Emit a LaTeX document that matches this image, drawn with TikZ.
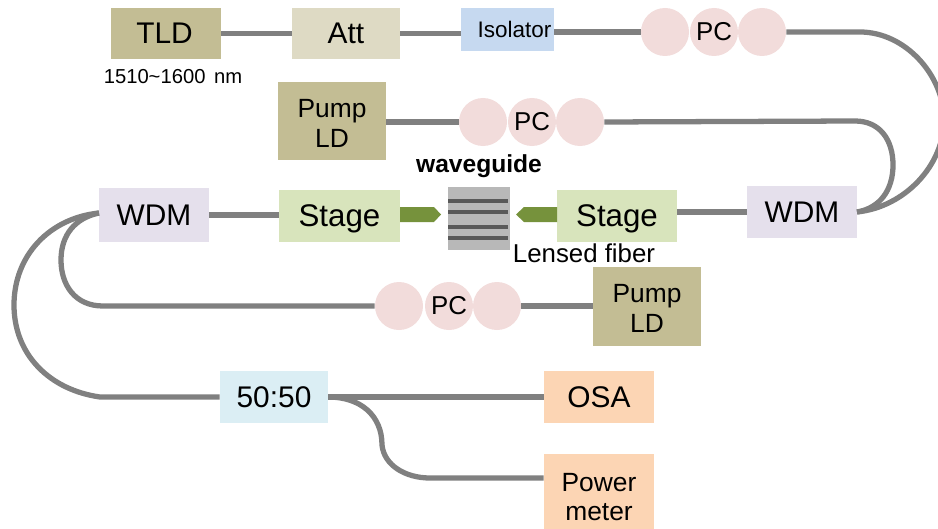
\documentclass[tikz,border=0pt]{standalone}
\usepackage{fontspec}
\setmainfont{Liberation Sans}
\usetikzlibrary{shapes.geometric, positioning}
\definecolor{ldtan}{RGB}{195, 189, 148}
\definecolor{atttan}{RGB}{222, 218, 196}
\definecolor{isoblue}{RGB}{198, 217, 240}
\definecolor{pcpink}{RGB}{242, 220, 219}
\definecolor{wdmlilac}{RGB}{229, 224, 236}
\definecolor{stagegreen}{RGB}{216, 228, 188}
\definecolor{tipgreen}{RGB}{118, 146, 60}
\definecolor{splitblue}{RGB}{219, 238, 244}
\definecolor{outorange}{RGB}{252, 213, 180}
\definecolor{fibergray}{RGB}{128, 128, 128}
\tikzset{
    box/.style={rectangle, inner sep=0pt, align=center, text depth=0pt, font=\fontsize{17}{20}\selectfont},
    twoline/.style={font=\fontsize{15}{17}\selectfont},
    pcball/.style={circle, fill=pcpink, inner sep=0pt, minimum size=0.96cm, font=\fontsize{14.7}{17}\selectfont},
    fiber/.style={draw=fibergray, line width=3pt},
    core/.style={draw=black!65, line width=2.2pt},
    fibertip/.style={fill=tipgreen, draw=none}
}
\begin{document}
\begin{tikzpicture}[x=0.2mm, y=-0.2mm]
    \useasboundingbox (0,0) rectangle (938,529);

    % Top row
    \node[box, fill=ldtan, minimum width=2.2cm, minimum height=1.02cm] (tld) at (166, 33.5) {\hspace{-0.06cm}TLD};
    \node[box, fill=atttan, minimum width=2.16cm, minimum height=1.02cm] (att) at (346, 33.5) {Att};
    \node[box, fill=isoblue, minimum width=1.86cm, minimum height=0.86cm, font=\fontsize{12.8}{15}\selectfont] (iso) at (507.5, 29.5) {\hspace{0.28cm}Isolator};
    \node[pcball] (pcA1) at (665, 32) {};
    \node[pcball] (pcA2) at (714, 32) {PC};
    \node[pcball] (pcA3) at (762, 32) {};
    \node[font=\fontsize{11.5}{14}\selectfont] (range) at (173, 77) {1510\textasciitilde1600\hspace{0.06cm} nm};

    % Pump row
    \node[box, twoline, fill=ldtan, minimum width=2.16cm, minimum height=1.56cm] (pumpA) at (332, 121) {\rule{0pt}{13pt}Pump\\LD};
    \node[pcball] (pcB1) at (483, 122) {};
    \node[pcball] (pcB2) at (532, 122) {PC};
    \node[pcball] (pcB3) at (580, 122) {};

    % Waveguide row
    \node[box, fill=wdmlilac, minimum width=2.2cm, minimum height=1.08cm] (wdmL) at (154, 215) {WDM};
    \node[box, fill=stagegreen, minimum width=2.42cm, minimum height=1.04cm, font=\fontsize{17.8}{20}\selectfont] (stageL) at (339.5, 216) {Stage};
    \node[box, fill=stagegreen, minimum width=2.4cm, minimum height=1.04cm, font=\fontsize{17.8}{20}\selectfont] (stageR) at (617, 216) {Stage};
    \node[box, fill=wdmlilac, minimum width=2.2cm, minimum height=1.04cm] (wdmR) at (802, 212) {WDM};
    \node[box, fill=black!28, minimum width=1.24cm, minimum height=1.26cm] (chip) at (479, 218.5) {};
    \node[font=\bfseries\fontsize{14}{17}\selectfont] (wglabel) at (479, 166) {waveguide};
    \node[font=\fontsize{14.7}{17}\selectfont] (lensed) at (584, 253) {Lensed fiber};

    % Second pump row
    \node[box, twoline, fill=ldtan, minimum width=2.16cm, minimum height=1.58cm] (pumpB) at (647, 306.5) {\rule{0pt}{13pt}Pump\\LD};
    \node[pcball] (pcC1) at (399, 306) {};
    \node[pcball] (pcC2) at (449, 306) {PC};
    \node[pcball] (pcC3) at (497, 306) {};

    % Outputs
    \node[box, fill=splitblue, minimum width=2.16cm, minimum height=1.04cm] (split) at (274, 397) {50:50};
    \node[box, fill=outorange, minimum width=2.2cm, minimum height=1.04cm] (osa) at (599, 397) {OSA};
    \node[box, twoline, fill=outorange, minimum width=2.2cm, minimum height=1.5cm] (meter) at (599, 491.5) {\rule{0pt}{16.5pt}Power\\meter};

    % Lens tips
    \fill[fibertip] (400,207) -- (434,207) -- (441,214.5) -- (434,222) -- (400,222) -- cycle;
    \fill[fibertip] (557,207) -- (524,207) -- (516,214.5) -- (524,222) -- (557,222) -- cycle;

    % Waveguide cores
    \draw[core] (448,201) -- (508,201);
    \draw[core] (448,212) -- (508,212);
    \draw[core] (448,227) -- (508,227);
    \draw[core] (448,238) -- (508,238);

    % Straight fibers
    \draw[fiber] (tld.east) -- (att.west);
    \draw[fiber] (att.east) -- (iso.west |- att.east);
    \draw[fiber] (iso.east |- pcA1) -- (pcA1.west);
    \draw[fiber] (pumpA.east |- pcB1) -- (pcB1.west);
    \draw[fiber] (wdmL.east) -- (stageL.west |- wdmL.east);
    \draw[fiber] (stageR.east |- wdmR.west) -- (wdmR.west);
    \draw[fiber] (pcC3.east) -- (pumpB.west |- pcC3);
    \draw[fiber] (osa.west) -- (split.east);

    % Curved fibers
    \coordinate (wdmRin) at (857,212);
    \coordinate (wdmLin) at (99,213);
    \draw[fiber] (pcA3.east) -- (860,32) .. controls (905,32) and (944,75) .. (944,120) .. controls (944,165) and (905,207) .. (wdmRin);
    \draw[fiber] (pcB3.east) -- (855,121) .. controls (880,121) and (893,140) .. (893,165) .. controls (893,190) and (880,208) .. (wdmRin);
    \draw[fiber] (pcC1.west) -- (103,306) .. controls (75,306) and (61,285) .. (61,260) .. controls (61,235) and (75,218) .. (wdmLin);
    \draw[fiber] (split.west) -- (100,397) .. controls (50,390) and (14,355) .. (14,305) .. controls (14,255) and (50,218) .. (wdmLin);
    \draw[fiber] (split.east) .. controls (360,397) and (382,415) .. (382,445) .. controls (384,465) and (405,478) .. (430,478) -- (meter.west |- 0,478);
\end{tikzpicture}
\end{document}
